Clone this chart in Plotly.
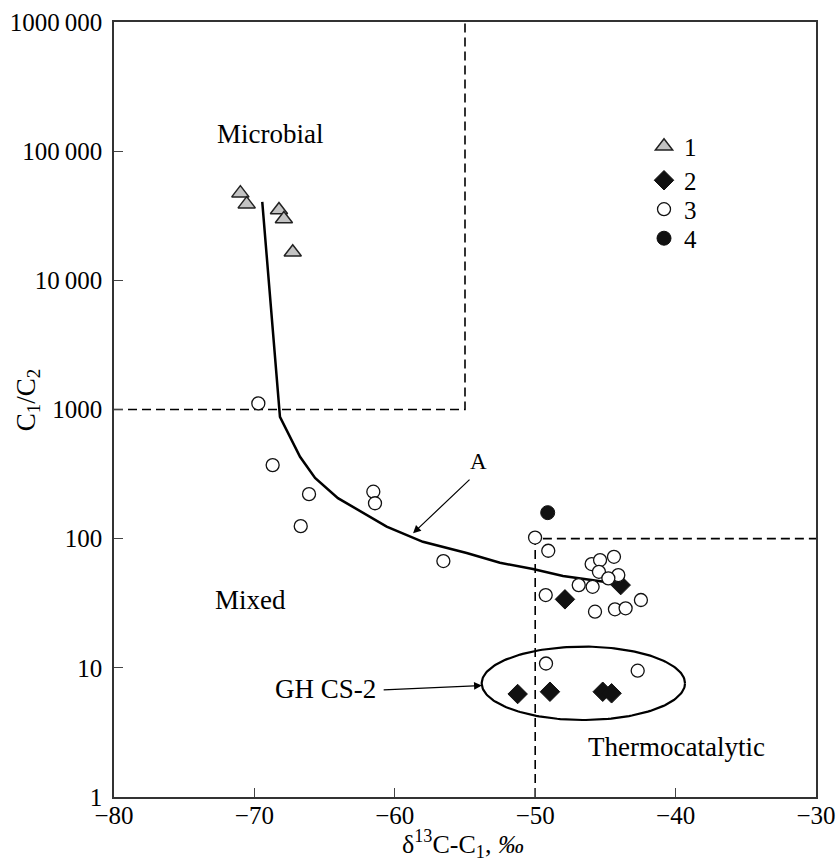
import numpy as np
import plotly.graph_objects as go

# ---- data ----
tri_x = [-71.0, -70.55, -68.25, -67.9, -67.27]
tri_y = [47300, 38900, 35000, 29800, 16500]

dia_x = [-47.88, -43.91, -51.25, -48.95, -45.19, -44.56]
dia_y = [33.9, 43.7, 6.27, 6.53, 6.53, 6.35]

circ_x = [-69.72, -68.7, -66.11, -66.7, -61.53, -61.41, -56.54,
          -50.01, -49.07, -45.98, -45.38, -44.39, -45.46, -44.08, -44.79,
          -46.9, -45.91, -49.25, -45.74, -44.32, -43.56, -42.47,
          -49.23, -42.7]
circ_y = [1115, 371, 221, 125, 231, 188, 67.1,
          102, 80.6, 63.6, 68.3, 72.4, 55.4, 52.3, 49.3,
          43.7, 42.4, 36.6, 27.2, 28.4, 28.9, 33.5,
          10.8, 9.5]

fill_x = [-49.11]
fill_y = [159]

curve_x = [-69.44, -68.18, -66.75, -65.68, -64.05, -60.58, -58.0, -54.88,
           -52.51, -50.16, -48.02, -46.1, -43.96]
curve_y = [40500, 878, 430, 295, 206, 124, 94.6, 77.4, 65.1, 58.2, 51.4, 47.8, 44.5]

ytick_vals = [1, 10, 100, 1000, 10000, 100000, 1000000]
ytick_text = ["1", "10", "100", "1000", "10\u2009000", "100\u2009000", "1000\u2009000"]
xtick_vals = [-80, -70, -60, -50, -40, -30]
xtick_text = ["\u221280", "\u221270", "\u221260", "\u221250", "\u221240", "\u221230"]

series_names = ["1", "2", "3", "4"]

# ellipse (GH CS-2) center / half-axes in (x, log10 y)
ell_cx, ell_cy = -46.57, 7.59
ell_ax, ell_ay = 7.24, 0.284

FONT = "Liberation Serif"

fig = go.Figure()

# boundary dashed lines
dash = dict(color="black", width=1.6, dash="9px,5px")
fig.add_trace(go.Scatter(x=[-80, -55, -55], y=[1000, 1000, 1000000], mode="lines",
                         line=dash, showlegend=False, hoverinfo="skip"))
fig.add_trace(go.Scatter(x=[-50, -50, -30], y=[1, 100, 100], mode="lines",
                         line=dash, showlegend=False, hoverinfo="skip"))

# curve A
fig.add_trace(go.Scatter(x=curve_x, y=curve_y, mode="lines",
                         line=dict(color="black", width=2.5), showlegend=False))

# ellipse
t = np.linspace(0, 2 * np.pi, 200)
ex = ell_cx + ell_ax * np.cos(t)
ey = 10 ** (np.log10(ell_cy) + ell_ay * np.sin(t))
fig.add_trace(go.Scatter(x=ex, y=ey, mode="lines", line=dict(color="black", width=2.2),
                         showlegend=False, hoverinfo="skip"))

fig.add_trace(go.Scatter(x=tri_x, y=tri_y, mode="markers", name=series_names[0], legend="legend",
                         marker=dict(symbol="triangle-up", size=15, color="#c3c3c3",
                                     line=dict(color="#222", width=1.5))))
fig.add_trace(go.Scatter(x=dia_x, y=dia_y, mode="markers", name=series_names[1], legend="legend2",
                         marker=dict(symbol="diamond", size=15, color="#111",
                                     line=dict(color="#111", width=1))))
fig.add_trace(go.Scatter(x=circ_x, y=circ_y, mode="markers", name=series_names[2], legend="legend3",
                         marker=dict(symbol="circle", size=13, color="white",
                                     line=dict(color="#111", width=1.3))))
fig.add_trace(go.Scatter(x=fill_x, y=fill_y, mode="markers", name=series_names[3], legend="legend4",
                         marker=dict(symbol="circle", size=14, color="#111",
                                     line=dict(color="#111", width=1))))

tf = dict(family=FONT, size=27, color="black")
annos = [
    dict(x=-68.9, y=np.log10(137000), text="Microbial", showarrow=False, font=tf),
    dict(x=-70.3, y=np.log10(33.5), text="Mixed", showarrow=False, font=tf),
    dict(x=-39.97, y=np.log10(2.44), text="Thermocatalytic", showarrow=False, font=tf),
    dict(x=-58.7, y=np.log10(110), ax=-54.57, ay=np.log10(294), axref="x", ayref="y",
         text="", showarrow=True, arrowhead=2, arrowsize=1.3, arrowwidth=1.2, arrowcolor="black"),
    dict(x=-54.05, y=np.log10(394), text="A", showarrow=False,
         font=dict(family=FONT, size=23, color="black")),
    dict(x=-53.8, y=np.log10(7.3), ax=-60.9, ay=np.log10(6.75), axref="x", ayref="y",
         text="", showarrow=True, arrowhead=2, arrowsize=1.3, arrowwidth=1.2, arrowcolor="black"),
    dict(x=-61.2, y=np.log10(6.9), text="GH CS-2", showarrow=False, xanchor="right", font=tf),
    dict(xref="paper", yref="paper", x=-0.1225, y=0.512, xanchor="center", yanchor="middle",
         text="C<sub>1</sub>/C<sub>2</sub>", textangle=-90, showarrow=False, font=tf),
    dict(xref="paper", yref="paper", x=0.497, y=-0.061, xanchor="center", yanchor="middle",
         text="δ<sup>13</sup>C-C<sub>1</sub>, <i>‰</i>", showarrow=False,
         font=dict(family=FONT, size=26, color="black")),
]

leg_common = dict(x=0.755, xanchor="left", yanchor="middle",
                  font=dict(family=FONT, size=25), bgcolor="rgba(0,0,0,0)",
                  itemwidth=30, borderwidth=0)
legend_ys = [0.8394, 0.7955, 0.7581, 0.7207]

fig.update_layout(
    width=840, height=863,
    margin=dict(l=114, r=24, t=22, b=66),
    paper_bgcolor="white", plot_bgcolor="white",
    font=dict(family=FONT, size=25, color="black"),
    annotations=annos,
    legend=dict(y=legend_ys[0], **leg_common),
    legend2=dict(y=legend_ys[1], **leg_common),
    legend3=dict(y=legend_ys[2], **leg_common),
    legend4=dict(y=legend_ys[3], **leg_common),
    xaxis=dict(range=[-80, -30], tickvals=xtick_vals, ticktext=xtick_text,
               ticks="inside", ticklen=9, automargin=False, ticklabelstandoff=-5,
               showline=True, linecolor="#333", linewidth=1.5, mirror=True,
               showgrid=False, zeroline=False,
               tickfont=dict(family=FONT, size=25)),
    yaxis=dict(type="log", range=[0, 6], tickvals=ytick_vals, ticktext=ytick_text,
               ticks="inside", ticklen=9, ticklabelstandoff=5, automargin=False,
               showline=True, linecolor="#333", linewidth=1.5, mirror=True,
               showgrid=False, zeroline=False,
               tickfont=dict(family=FONT, size=25)),
)

fig.write_html("out.html")
